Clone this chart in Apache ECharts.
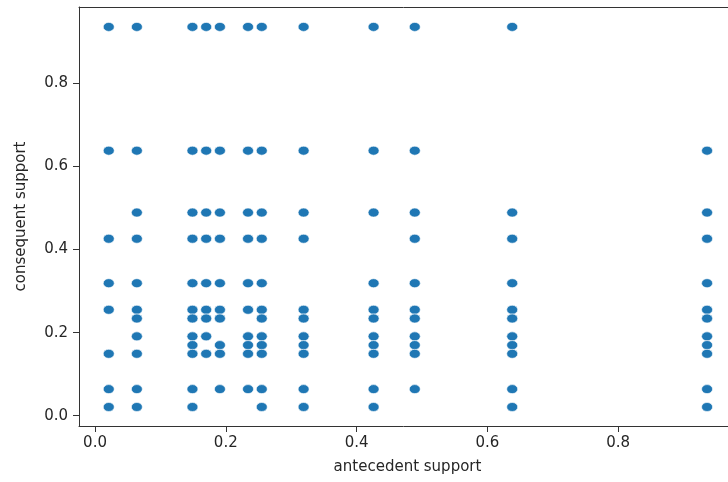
<!DOCTYPE html>
<html>
<head>
<meta charset="utf-8">
<script src="https://cdn.jsdelivr.net/npm/echarts@6/dist/echarts.min.js"></script>
<style>html,body{margin:0;padding:0;background:#fff}#c{width:728px;height:482px}</style>
</head>
<body>
<div id="c"></div>
<script>
// Each point: (antecedent support, consequent support), grouped by consequent row
const antecedentSupport = [
  0.021,0.064,0.149,0.170,0.191,0.234,0.255,0.319,0.426,0.489,0.638,
  0.021,0.064,0.149,0.170,0.191,0.234,0.255,0.319,0.426,0.489,0.936,
  0.064,0.149,0.170,0.191,0.234,0.255,0.319,0.426,0.489,0.638,0.936,
  0.021,0.064,0.149,0.170,0.191,0.234,0.255,0.319,0.489,0.638,0.936,
  0.021,0.064,0.149,0.170,0.191,0.234,0.255,0.426,0.489,0.638,0.936,
  0.021,0.064,0.149,0.170,0.191,0.234,0.255,0.319,0.426,0.489,0.638,0.936,
  0.064,0.149,0.170,0.191,0.255,0.319,0.426,0.489,0.638,0.936,
  0.064,0.149,0.170,0.234,0.255,0.319,0.426,0.489,0.638,0.936,
  0.149,0.191,0.234,0.255,0.319,0.426,0.489,0.638,0.936,
  0.021,0.064,0.149,0.170,0.191,0.234,0.255,0.319,0.426,0.489,0.638,0.936,
  0.021,0.064,0.149,0.191,0.234,0.255,0.319,0.426,0.489,0.638,0.936,
  0.021,0.064,0.149,0.255,0.319,0.426,0.638,0.936
];
const consequentSupport = [
  0.936,0.936,0.936,0.936,0.936,0.936,0.936,0.936,0.936,0.936,0.936,
  0.638,0.638,0.638,0.638,0.638,0.638,0.638,0.638,0.638,0.638,0.638,
  0.489,0.489,0.489,0.489,0.489,0.489,0.489,0.489,0.489,0.489,0.489,
  0.426,0.426,0.426,0.426,0.426,0.426,0.426,0.426,0.426,0.426,0.426,
  0.319,0.319,0.319,0.319,0.319,0.319,0.319,0.319,0.319,0.319,0.319,
  0.255,0.255,0.255,0.255,0.255,0.255,0.255,0.255,0.255,0.255,0.255,0.255,
  0.234,0.234,0.234,0.234,0.234,0.234,0.234,0.234,0.234,0.234,
  0.191,0.191,0.191,0.191,0.191,0.191,0.191,0.191,0.191,0.191,
  0.170,0.170,0.170,0.170,0.170,0.170,0.170,0.170,0.170,
  0.149,0.149,0.149,0.149,0.149,0.149,0.149,0.149,0.149,0.149,0.149,0.149,
  0.064,0.064,0.064,0.064,0.064,0.064,0.064,0.064,0.064,0.064,0.064,
  0.021,0.021,0.021,0.021,0.021,0.021,0.021,0.021
];
const xTicks = [0, 0.2, 0.4, 0.6, 0.8];
const yTicks = [0, 0.2, 0.4, 0.6, 0.8];
const xLabel = 'antecedent support';
const yLabel = 'consequent support';

const points = antecedentSupport.map((x, i) => [x, consequentSupport[i]]);
const font = 'DejaVu Sans';
const spine = {show: true, onZero: false, lineStyle: {color: '#333', width: 1}};
const chart = echarts.init(document.getElementById('c'), null, {renderer: 'canvas'});
chart.setOption({
  animation: false,
  grid: {left: 79, right: 0, top: 7, bottom: 56, show: false},
  xAxis: [{
    type: 'value', min: -0.0245, max: 0.968,
    name: xLabel, nameLocation: 'middle', nameGap: 34,
    nameTextStyle: {fontFamily: font, fontSize: 15, color: '#262626', padding: [0, 0, 0, 8]},
    axisLine: spine,
    axisTick: {show: true, inside: false, length: 6, customValues: xTicks, lineStyle: {color: '#333'}},
    axisLabel: {customValues: xTicks, margin: 10, fontFamily: font, fontSize: 15, color: '#262626',
      formatter: v => v.toFixed(1)},
    splitLine: {show: false}
  }, {
    type: 'value', position: 'top', min: -0.0245, max: 0.968,
    axisLine: spine, axisTick: {show: false}, axisLabel: {show: false}, splitLine: {show: false}
  }],
  yAxis: {
    type: 'value', min: -0.0248, max: 0.9839,
    name: yLabel, nameLocation: 'middle', nameGap: 50,
    nameTextStyle: {fontFamily: font, fontSize: 15, color: '#262626'},
    axisLine: spine,
    axisTick: {show: true, inside: false, length: 6, customValues: yTicks, lineStyle: {color: '#333'}},
    axisLabel: {customValues: yTicks, margin: 11, fontFamily: font, fontSize: 15, color: '#262626',
      formatter: v => v.toFixed(1)},
    splitLine: {show: false}
  },
  series: [{
    type: 'scatter',
    xAxisIndex: 0,
    data: points,
    symbol: 'circle',
    symbolSize: [11, 9],
    itemStyle: {color: '#1f77b4', borderColor: '#ffffff', borderWidth: 0.6, opacity: 1}
  }]
});
</script>
</body>
</html>
